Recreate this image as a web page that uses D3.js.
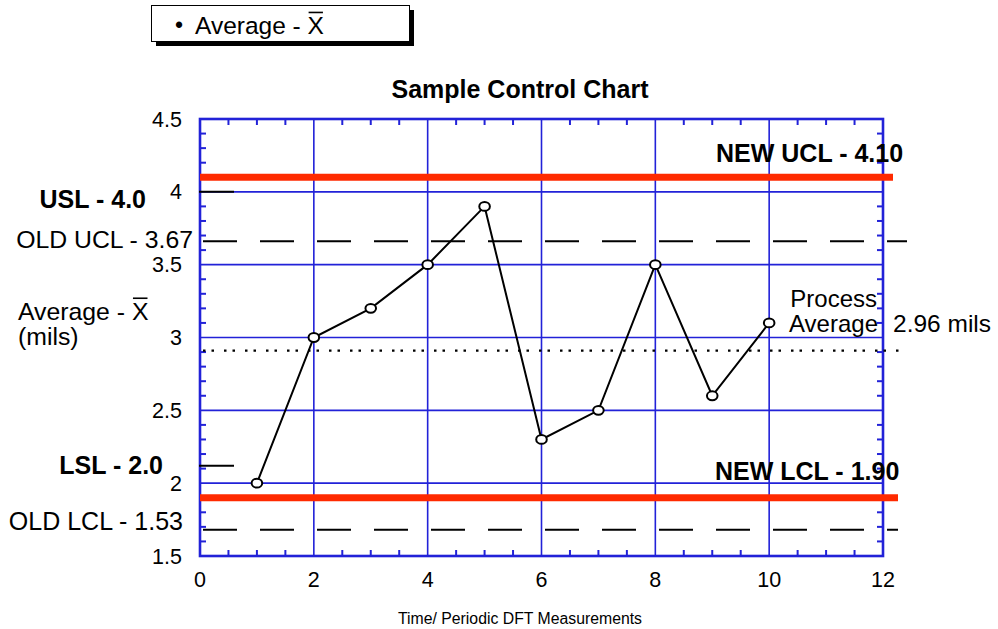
<!DOCTYPE html>
<html>
<head>
<meta charset="utf-8">
<script src="https://cdn.jsdelivr.net/npm/d3@7"></script>
<style>
  html, body { margin: 0; padding: 0; background: #fff; }
  svg { display: block; font-family: "Liberation Sans", Arial, sans-serif; }
</style>
</head>
<body>
<svg id="chart" width="998" height="629"></svg>
<script>
// ---------- data ----------
const samples = [1, 2, 3, 4, 5, 6, 7, 8, 9, 10];
const averages = [2.0, 3.0, 3.2, 3.5, 3.9, 2.3, 2.5, 3.5, 2.6, 3.1];
const xTicks = [0, 2, 4, 6, 8, 10, 12];
const yTicks = [1.5, 2, 2.5, 3, 3.5, 4, 4.5];
const xMinor = d3.range(0, 12.01, 0.5);
const yMinor = d3.range(15, 46).map(d => d / 10);

// control / spec lines (positions as drawn in the picture)
const newLimitNames = ["NEW UCL - 4.10", "NEW LCL - 1.90"];
const newLimitValues = [4.10, 1.90];
const oldLimitNames = ["OLD UCL - 3.67", "OLD LCL - 1.53"];
const oldLimitValues = [3.66, 1.68];
const specNames = ["USL - 4.0", "LSL - 2.0"];
const specValues = [4.0, 2.12];
const processAvgValue = 2.91;

const title = "Sample Control Chart";
const xTitle = "Time/ Periodic DFT Measurements";

// ---------- layout ----------
const svg = d3.select("#chart");
const x = d3.scaleLinear().domain([0, 12]).range([200, 883]);
const y = d3.scaleLinear().domain([1.5, 4.5]).range([556, 119]);
const BLUE = "#2222d8";
const RED = "#ff2a00";

function text(g, px, py, s, o = {}) {
  return g.append("text")
    .attr("x", px).attr("y", py)
    .attr("text-anchor", o.anchor || "start")
    .attr("font-size", o.size || 25)
    .attr("font-weight", o.bold ? "bold" : "normal")
    .attr("fill", "#000")
    .style("white-space", "pre")
    .text(s);
}
function xbar(g, px, py, size, prefix) {
  const t1 = text(g, px, py, prefix, { size });
  const w = t1.node().getComputedTextLength();
  const t2 = text(g, px + w, py, "X", { size });
  const wx = t2.node().getComputedTextLength();
  g.append("line")
    .attr("x1", px + w + 1).attr("x2", px + w + wx - 1)
    .attr("y1", py - size * 0.716 - 4).attr("y2", py - size * 0.716 - 4)
    .attr("stroke", "#000").attr("stroke-width", 1.6);
}

// ---------- legend ----------
const leg = svg.append("g");
leg.append("rect").attr("x", 156).attr("y", 10).attr("width", 258).attr("height", 36).attr("fill", "#000");
leg.append("rect").attr("x", 151.5).attr("y", 5.5).attr("width", 258).attr("height", 36)
  .attr("fill", "#fff").attr("stroke", "#000").attr("stroke-width", 1);
text(leg, 175, 33, "•", { size: 23 });
xbar(leg, 195, 34, 24.5, "Average\u00A0-\u00A0");

// ---------- title ----------
text(svg, 520, 98, title, { anchor: "middle", size: 25, bold: true });

// ---------- grid ----------
const grid = svg.append("g");
grid.selectAll("line.vg").data(xTicks.filter(d => d > 0 && d < 12)).join("line")
  .attr("x1", d => x(d)).attr("x2", d => x(d)).attr("y1", y(4.5)).attr("y2", y(1.5))
  .attr("stroke", BLUE).attr("stroke-width", 1.6);
grid.selectAll("line.hg").data(yTicks.filter(d => d > 1.5 && d < 4.5)).join("line")
  .attr("x1", x(0)).attr("x2", x(12)).attr("y1", d => y(d)).attr("y2", d => y(d))
  .attr("stroke", BLUE).attr("stroke-width", 1.6);

// minor ticks (inward) on all four sides
const tk = svg.append("g").attr("stroke", BLUE).attr("stroke-width", 2);
xMinor.filter(d => d % 2 !== 0).forEach(d => {
  tk.append("line").attr("x1", x(d)).attr("x2", x(d)).attr("y1", y(1.5)).attr("y2", y(1.5) - 6);
  tk.append("line").attr("x1", x(d)).attr("x2", x(d)).attr("y1", y(4.5)).attr("y2", y(4.5) + 6);
});
yMinor.filter(d => Math.abs(d * 2 - Math.round(d * 2)) > 1e-6).forEach(d => {
  tk.append("line").attr("x1", x(0)).attr("x2", x(0) + 6).attr("y1", y(d)).attr("y2", y(d));
  tk.append("line").attr("x1", x(12)).attr("x2", x(12) - 6).attr("y1", y(d)).attr("y2", y(d));
});

// frame
svg.append("rect").attr("x", x(0)).attr("y", y(4.5)).attr("width", x(12) - x(0)).attr("height", y(1.5) - y(4.5))
  .attr("fill", "none").attr("stroke", BLUE).attr("stroke-width", 2.6);

// ---------- axes labels ----------
const axisG = svg.append("g");
yTicks.forEach(d => text(axisG, 182, y(d) + 7.5, String(d), { anchor: "end", size: 21.5 }));
xTicks.forEach(d => text(axisG, x(d), 587, String(d), { anchor: "middle", size: 21.5 }));
text(svg, 520, 624, xTitle, { anchor: "middle", size: 15.8 });

// ---------- limit lines ----------
const lim = svg.append("g");
// old limits (dashed)
oldLimitValues.forEach((v, i) => {
  lim.append("line").attr("x1", 203).attr("x2", i === 0 ? 907 : 898)
    .attr("y1", y(v)).attr("y2", y(v))
    .attr("stroke", "#000").attr("stroke-width", 2).attr("stroke-dasharray", "34,23");
});
// spec limits (short lines at left)
specValues.forEach(v => {
  lim.append("line").attr("x1", 199).attr("x2", 234).attr("y1", y(v)).attr("y2", y(v))
    .attr("stroke", "#000").attr("stroke-width", 2);
});
// process average (dotted)
lim.append("line").attr("x1", 203).attr("x2", 899).attr("y1", y(processAvgValue)).attr("y2", y(processAvgValue))
  .attr("stroke", "#000").attr("stroke-width", 2.2).attr("stroke-dasharray", "2.5,6,2.5,10");
// new limits (red)
newLimitValues.forEach((v, i) => {
  lim.append("line").attr("x1", x(0)).attr("x2", i === 0 ? 893 : 898)
    .attr("y1", y(v)).attr("y2", y(v))
    .attr("stroke", RED).attr("stroke-width", 7);
});

// ---------- data series ----------
const pts = samples.map((s, i) => [s, averages[i]]);
svg.append("path").datum(pts)
  .attr("d", d3.line().x(d => x(d[0])).y(d => y(d[1])))
  .attr("fill", "none").attr("stroke", "#000").attr("stroke-width", 2);
svg.selectAll("ellipse.pt").data(pts).join("ellipse")
  .attr("cx", d => x(d[0])).attr("cy", d => y(d[1]))
  .attr("rx", 5.3).attr("ry", 4.4)
  .attr("fill", "#fff").attr("stroke", "#000").attr("stroke-width", 2);

// ---------- annotations ----------
const ann = svg.append("g");
text(ann, 146, 208, specNames[0], { anchor: "end", size: 25, bold: true });
text(ann, 193, 248, oldLimitNames[0], { anchor: "end", size: 24.8 });
xbar(ann, 18, 320, 24.8, "Average\u00A0-\u00A0");
text(ann, 18, 345, "(mils)", { size: 24.8 });
text(ann, 163, 474, specNames[1], { anchor: "end", size: 25, bold: true });
text(ann, 183, 530, oldLimitNames[1], { anchor: "end", size: 25 });

text(ann, 716, 162, newLimitNames[0], { size: 25, bold: true });
text(ann, 715, 480, newLimitNames[1], { size: 25, bold: true });
text(ann, 877, 307, "Process", { anchor: "end", size: 24 });
text(ann, 878, 332, "Average", { anchor: "end", size: 24 });
text(ann, 893, 332, "2.96 mils", { size: 24.5 });
</script>
</body>
</html>
